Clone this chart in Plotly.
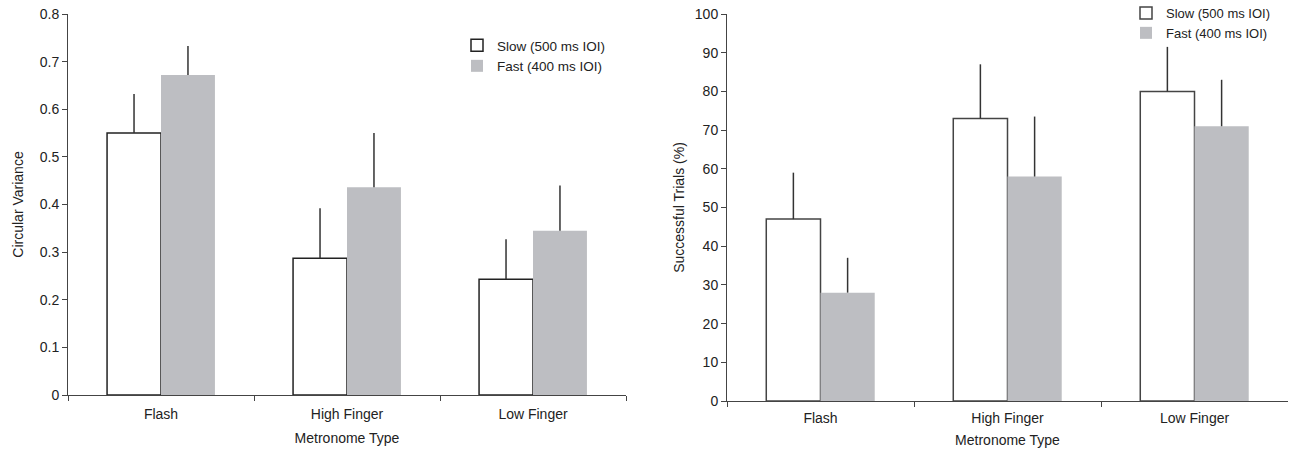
import plotly.graph_objects as go

categories = ["Flash", "High Finger", "Low Finger"]

# Left panel: circular variance
cv_slow = [0.55, 0.287, 0.243]
cv_slow_err = [0.082, 0.105, 0.084]
cv_fast = [0.672, 0.436, 0.345]
cv_fast_err = [0.061, 0.114, 0.095]

# Right panel: successful trials (%)
st_slow = [47, 73, 80]
st_slow_err = [12, 14, 11.5]
st_fast = [28, 58, 71]
st_fast_err = [9, 15.5, 12]

slow_name = "Slow (500 ms IOI)"
fast_name = "Fast (400 ms IOI)"
gray = "#bdbec2"
font = "Liberation Sans, Arial, Helvetica, sans-serif"

fig = go.Figure()

def add(xax, yax, slow, slow_err, fast, fast_err, legend, outline):
    fig.add_trace(go.Bar(
        x=categories, y=slow, name=slow_name, xaxis=xax, yaxis=yax, legend=legend,
        marker=dict(color="white", line=dict(color=outline, width=1.5)),
        error_y=dict(type="data", array=slow_err, arrayminus=[0, 0, 0], symmetric=False,
                     width=0, thickness=1.5, color="#333333"),
    ))
    fig.add_trace(go.Bar(
        x=categories, y=fast, name=fast_name, xaxis=xax, yaxis=yax, legend=legend,
        marker=dict(color=gray, line=dict(width=0)),
        error_y=dict(type="data", array=fast_err, arrayminus=[0, 0, 0], symmetric=False,
                     width=0, thickness=1.5, color="#333333"),
    ))

add("x", "y", cv_slow, cv_slow_err, cv_fast, cv_fast_err, "legend", "#222222")
add("x2", "y2", st_slow, st_slow_err, st_fast, st_fast_err, "legend2", "#444444")

W, H = 1289, 451
axis_common = dict(showline=True, linecolor="#444444", linewidth=1, ticks="outside",
                   ticklen=5, tickcolor="#444444", showgrid=False, zeroline=False,
                   automargin=False, tickfont=dict(size=14, color="#222222"))
title_font = dict(size=14, color="#222222")

fig.update_layout(
    width=W, height=H, margin=dict(l=0, r=0, t=0, b=0, autoexpand=False),
    paper_bgcolor="white", plot_bgcolor="white",
    font=dict(family=font, size=14, color="#222222"),
    barmode="group", bargap=0.42, bargroupgap=0,
    xaxis=dict(domain=[68 / W, 626 / W], anchor="y", range=[-0.5, 2.5], tickson="boundaries",
               ticklabelstandoff=6,
               title=dict(text="Metronome Type", font=title_font, standoff=12), **axis_common),
    yaxis=dict(domain=[(H - 395) / H, (H - 14) / H], anchor="x", range=[0, 0.8], dtick=0.1,
               tickformat=".1~f",
               title=dict(text="Circular Variance", font=title_font, standoff=12), **axis_common),
    xaxis2=dict(domain=[727 / W, 1288 / W], anchor="y2", range=[-0.5, 2.5], tickson="boundaries",
                ticklabelstandoff=4,
                title=dict(text="Metronome Type", font=title_font, standoff=10), **axis_common),
    yaxis2=dict(domain=[(H - 401) / H, (H - 14) / H], anchor="x2", range=[0, 100], dtick=10,
                title=dict(text="Successful Trials (%)", font=title_font, standoff=6), **axis_common),
    legend=dict(x=457 / W, y=(H - 30) / H, xanchor="left", yanchor="top",
                bgcolor="rgba(0,0,0,0)", font=dict(size=13.5), tracegroupgap=0),
    legend2=dict(x=1126 / W, y=(H + 2) / H, xanchor="left", yanchor="top",
                 bgcolor="rgba(0,0,0,0)", font=dict(size=13), tracegroupgap=0),
)

fig.write_html("out.html")
